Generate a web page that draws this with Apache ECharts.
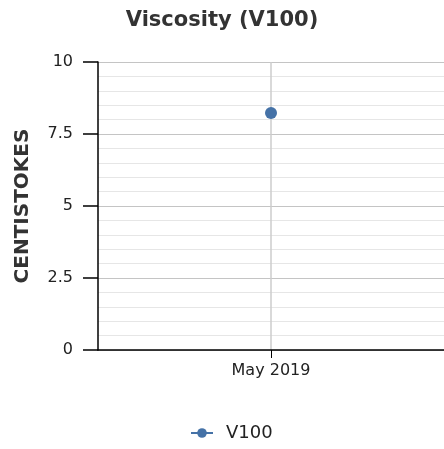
<!DOCTYPE html>
<html>
<head>
<meta charset="utf-8">
<script src="https://cdn.jsdelivr.net/npm/echarts@6/dist/echarts.min.js"></script>
<style>
html, body { margin: 0; padding: 0; background: #fff; }
#chart { width: 444px; height: 449px; }
</style>
</head>
<body>
<div id="chart"></div>
<script>
var months = ['May 2019'];
var v100 = [8.23];
var yTicks = [0, 2.5, 5, 7.5, 10];

var myChart = echarts.init(document.getElementById('chart'));
var font = 'DejaVu Sans, Verdana, sans-serif';

var option = {
    animation: false,
    title: {
        text: 'Viscosity (V100)',
        left: 'center',
        top: 5,
        textStyle: {
            fontFamily: font,
            fontSize: 21,
            fontWeight: 'bold',
            color: '#333'
        }
    },
    legend: {
        bottom: 2,
        left: 185,
        itemWidth: 22,
        itemHeight: 12,
        textStyle: {
            fontFamily: font,
            fontSize: 18,
            color: '#222',
            padding: [0, 0, 0, 8]
        },
        data: ['V100']
    },
    grid: {
        left: 98,
        right: 0,
        top: 62,
        bottom: 99
    },
    xAxis: {
        type: 'category',
        data: months,
        boundaryGap: true,
        axisLine: { show: true, lineStyle: { color: '#000', width: 1.5 } },
        axisTick: { show: true, alignWithLabel: true, length: 8, lineStyle: { color: '#000' } },
        axisLabel: {
            fontFamily: font,
            fontSize: 16,
            color: '#222',
            margin: 13
        },
        splitLine: { show: true, alignWithLabel: true, lineStyle: { color: '#ccc', width: 1.5 } }
    },
    yAxis: {
        type: 'value',
        name: 'CENTISTOKES',
        nameLocation: 'middle',
        nameGap: 65,
        nameTextStyle: {
            fontFamily: font,
            fontSize: 20,
            fontWeight: 'bold',
            color: '#333'
        },
        min: yTicks[0],
        max: yTicks[yTicks.length - 1],
        interval: 2.5,
        axisLine: { show: true, lineStyle: { color: '#000', width: 1.5 } },
        axisTick: { show: true, length: 15, lineStyle: { color: '#000', width: 1.5 } },
        axisLabel: {
            fontFamily: font,
            fontSize: 16,
            color: '#222',
            margin: 25
        },
        splitLine: { show: true, lineStyle: { color: '#c4c4c4' } },
        minorTick: { show: false, splitNumber: 5 },
        minorSplitLine: { show: true, lineStyle: { color: '#e6e6e6' } }
    },
    series: [{
        name: 'V100',
        type: 'line',
        data: v100,
        symbol: 'circle',
        symbolSize: 12,
        itemStyle: { color: '#4572a7' },
        lineStyle: { color: '#4572a7', width: 3 }
    }]
};

myChart.setOption(option);

window.addEventListener('resize', function () {
    myChart.resize();
});
</script>
</body>
</html>
